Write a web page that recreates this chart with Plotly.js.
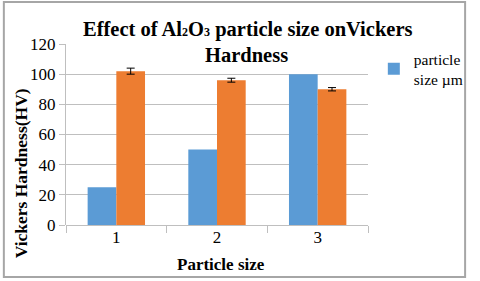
<!DOCTYPE html>
<html>
<head>
<meta charset="utf-8">
<script src="https://cdn.plot.ly/plotly-3.0.1.min.js"></script>
<style>html,body{margin:0;padding:0;background:#fff;}#chart{width:480px;height:281px;}</style>
</head>
<body>
<div id="chart"></div>
<script>
const categories = ['1', '2', '3'];
const particleSize = [25, 50, 100];
const hardness = [102, 96, 90];
const hardnessErr = [2, 1.3, 1.1];
const yTicks = [0, 20, 40, 60, 80, 100, 120];

const serif = 'Liberation Serif, serif';
const L = 66, R = 377, T = 44, B = 225;
const pw = R - L, ph = B - T;
const px = x => (x - L) / pw;
const py = y => (B - y) / ph;

const traces = [
  {
    type: 'bar', x: categories, y: particleSize, name: 'particle<br>size µm',
    marker: {color: '#5B9BD5'}, showlegend: true
  },
  {
    type: 'bar', x: categories, y: hardness, name: 'Vickers Hardness',
    marker: {color: '#ED7D31'}, showlegend: false,
    error_y: {type: 'data', array: hardnessErr, visible: true, color: '#000', thickness: 1, width: 4}
  }
];

const layout = {
  width: 480, height: 281,
  margin: {l: L, r: 480 - R, t: T, b: 281 - B},
  paper_bgcolor: '#fff', plot_bgcolor: '#fff',
  font: {family: serif, color: '#000', size: 17},
  barmode: 'group', bargap: 0.43, bargroupgap: 0,
  xaxis: {
    type: 'category', tickson: 'boundaries', ticks: 'outside', ticklen: 7, tickcolor: '#bfbfbf',
    showline: false, showgrid: false, zeroline: false,
    tickfont: {family: serif, size: 17, color: '#000'}
  },
  yaxis: {
    range: [0, 120], tickvals: yTicks, ticktext: yTicks.map(String),
    ticks: 'outside', ticklen: 6, tickcolor: '#bfbfbf',
    showgrid: true, gridcolor: '#bfbfbf', gridwidth: 1,
    zeroline: true, zerolinecolor: '#bfbfbf', zerolinewidth: 1,
    showline: true, linecolor: '#bfbfbf', linewidth: 1,
    tickfont: {family: serif, size: 17, color: '#000'}
  },
  legend: {
    x: px(383), y: py(42), xanchor: 'left', yanchor: 'top',
    font: {family: serif, size: 15.5, color: '#000'}, itemwidth: 30,
    bgcolor: 'rgba(0,0,0,0)', tracegroupgap: 0
  },
  annotations: [
    {xref: 'paper', yref: 'paper', x: px(253), y: py(30), xanchor: 'center', yanchor: 'middle',
     text: '<b>Effect of Al<span style="font-size:12px">2</span>O<span style="font-size:12px">3</span> particle size onVickers</b>', showarrow: false,
     font: {family: serif, size: 20.5}},
    {xref: 'paper', yref: 'paper', x: px(252), y: py(55), xanchor: 'center', yanchor: 'middle',
     text: '<b>Hardness</b>', showarrow: false, font: {family: serif, size: 20.5}},
    {xref: 'paper', yref: 'paper', x: px(20), y: py(173), xanchor: 'center', yanchor: 'middle',
     text: '<b>Vickers Hardness(HV)</b>', textangle: -90, showarrow: false, font: {family: serif, size: 17.5}},
    {xref: 'paper', yref: 'paper', x: px(226), y: py(264), xanchor: 'center', yanchor: 'middle',
     text: '<b>Particle size</b>', showarrow: false, font: {family: serif, size: 17}}
  ],
  shapes: [
    {type: 'rect', xref: 'paper', yref: 'paper', x0: px(2), x1: px(477), y0: py(2), y1: py(277),
     line: {color: '#a6a6a6', width: 2}, fillcolor: 'rgba(0,0,0,0)', layer: 'above'}
  ]
};

Plotly.newPlot('chart', traces, layout, {staticPlot: true, displayModeBar: false});
</script>
</body>
</html>
